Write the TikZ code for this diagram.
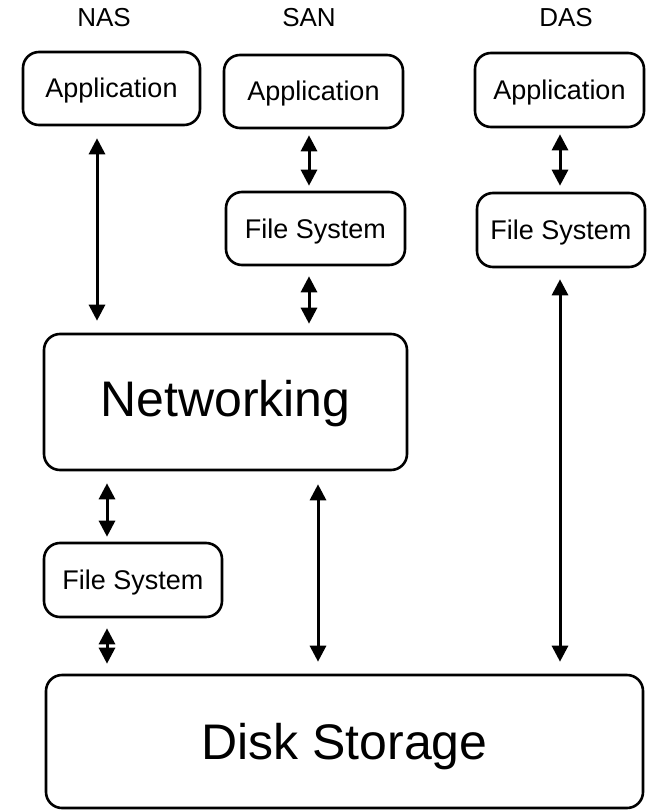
\documentclass[tikz,border=0pt]{standalone}
\usepackage{fontspec}
\setmainfont{Liberation Sans}
\usetikzlibrary{arrows.meta}

\begin{document}
\begin{tikzpicture}[x=1pt, y=-1pt,
  box/.style={draw, rounded corners=16pt, line width=2.6pt, inner sep=0pt,
    text height=19pt, text depth=0pt, font=\fontsize{27}{30}\selectfont},
  bigbox/.style={box, text height=36pt, font=\fontsize{50}{56}\selectfont},
  head/.style={font=\fontsize{26}{30}\selectfont},
  arr/.style={{Triangle[length=16pt,width=16pt]}-{Triangle[length=16pt,width=16pt]}, line width=3pt}]

\useasboundingbox (0,0) rectangle (646,810);

\node[head] (t1) at (104,18) {NAS};
\node[head] (t2) at (309,18) {SAN};
\node[head] (t3) at (566,18) {DAS};

\node[box, minimum width=177pt, minimum height=73pt] (app1) at (111.5,88.5) {Application};
\node[box, minimum width=179pt, minimum height=73pt] (app2) at (313.5,91.5) {Application};
\node[box, minimum width=169pt, minimum height=74pt] (app3) at (559.5,90) {Application};

\node[box, minimum width=179pt, minimum height=73pt] (fs2) at (315.5,228.5) {File System};
\node[box, minimum width=168pt, minimum height=74pt] (fs3) at (561,230) {File System};

\node[bigbox, text depth=8pt, minimum width=363pt, minimum height=136pt] (net) at (225.5,402) {Networking};

\node[box, minimum width=178pt, minimum height=74pt] (fs1) at (133,580) {File System};

\node[bigbox, minimum width=597pt, minimum height=133pt] (disk) at (344.5,741.5) {Disk Storage};

\coordinate (x1) at (97,0);
\coordinate (x2) at (107,0);
\coordinate (x3) at (309,0);
\coordinate (x4) at (318,0);
\coordinate (x5) at (560,0);

\draw[arr, shorten <=12pt, shorten >=12pt] (app1.south -| x1) -- (net.north -| x1);
\draw[arr, shorten <=6pt, shorten >=5pt] (app2.south -| x3) -- (fs2.north -| x3);
\draw[arr, shorten <=10pt, shorten >=9pt] (fs2.south -| x3) -- (net.north -| x3);
\draw[arr, shorten <=6pt, shorten >=6pt] (app3.south -| x5) -- (fs3.north -| x5);
\draw[arr, shorten <=11pt, shorten >=12pt] (fs3.south -| x5) -- (disk.north -| x5);
\draw[arr, shorten <=12pt, shorten >=5pt] (net.south -| x2) -- (fs1.north -| x2);
\draw[arr, shorten <=10pt, shorten >=10pt] (fs1.south -| x2) -- (disk.north -| x2);
\draw[arr, shorten <=13pt, shorten >=12pt] (net.south -| x4) -- (disk.north -| x4);

\end{tikzpicture}
\end{document}
